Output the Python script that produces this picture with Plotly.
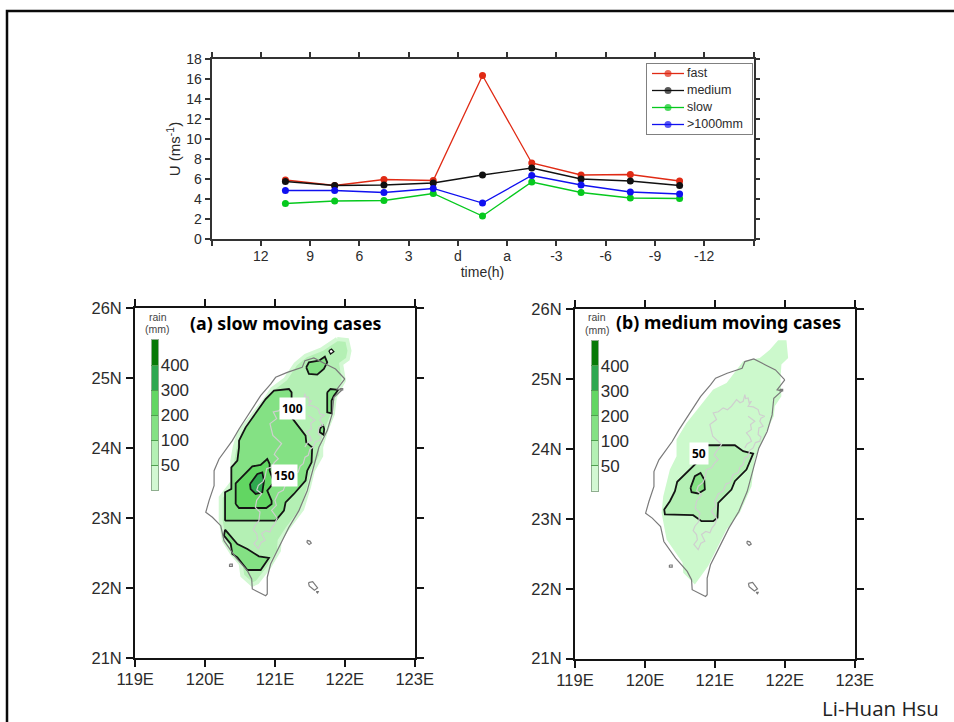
import plotly.graph_objects as go

# ---- top panel data
slot_positions = [1, 2, 3, 4, 5, 6, 7, 8, 9, 10]
slot_labels = ["12", "9", "6", "3", "d", "a", "-3", "-6", "-9", "-12"]
end_positions = [0, 11]
sample_positions = [1.5, 2.5, 3.5, 4.5, 5.5, 6.5, 7.5, 8.5, 9.5]
fast = [5.9, 5.35, 5.95, 5.85, 16.35, 7.6, 6.4, 6.45, 5.8]
medium = [5.75, 5.35, 5.4, 5.6, 6.4, 7.1, 6.0, 5.8, 5.35]
slow = [3.55, 3.8, 3.85, 4.55, 2.3, 5.7, 4.65, 4.1, 4.05]
over1000 = [4.85, 4.85, 4.65, 5.05, 3.6, 6.35, 5.4, 4.7, 4.5]
u_ticks = [0, 2, 4, 6, 8, 10, 12, 14, 16, 18]
series_names = ["fast", "medium", "slow", ">1000mm"]

# ---- map axes
lon_ticks = [119, 120, 121, 122, 123]
lon_labels = ["119E", "120E", "121E", "122E", "123E"]
lat_ticks = [21, 22, 23, 24, 25, 26]
lat_labels = ["21N", "22N", "23N", "24N", "25N", "26N"]
rain_levels = [0, 1, 2, 3, 4, 5]
rain_edges = [0.5, 1.5, 2.5, 3.5, 4.5]
rain_labels = ["50", "100", "200", "300", "400"]

# ---- geography (lon, lat)
coast = [(122.0,24.986),(121.89,24.843),(121.96,24.829),(121.843,24.724),(121.819,24.486),(121.748,24.248),
 (121.629,24.01),(121.557,23.724),(121.462,23.39),(121.343,23.105),(121.2,22.867),(121.057,22.581),(120.938,22.343),
 (120.89,22.152),(120.89,21.914),(120.867,21.89),(120.771,21.938),(120.676,21.986),(120.667,22.129),(120.605,22.248),
 (120.438,22.438),(120.271,22.676),(120.224,22.89),(120.105,23.01),(120.01,23.081),(120.057,23.248),(120.129,23.462),
 (120.129,23.676),(120.2,23.843),(120.39,24.105),(120.486,24.271),(120.652,24.533),(120.795,24.748),(120.938,24.914),
 (121.01,25.01),(121.176,25.081),(121.39,25.152),(121.429,25.248),(121.557,25.286),(121.724,25.2),(121.867,25.129),(122.0,24.986)]
green_island = [(121.46,22.68),(121.5,22.67),(121.52,22.64),(121.49,22.62),(121.46,22.65),(121.46,22.68)]
orchid_island = [(121.48,22.076),(121.54,22.09),(121.61,22.0),(121.565,21.967),(121.49,22.03),(121.48,22.076)]
islet_south = [(121.59,21.95),(121.62,21.95),(121.61,21.93),(121.59,21.95)]
islet_west = [(120.35,22.34),(120.39,22.34),(120.39,22.31),(120.35,22.31),(120.35,22.34)]
islet_east = [(121.93,24.85),(121.97,24.85),(121.97,24.83),(121.93,24.83),(121.93,24.85)]
mountains = [(121.429,24.776),(121.44,24.72),(121.476,24.729),(121.49,24.66),(121.524,24.681),(121.476,24.609),
 (121.55,24.6),(121.619,24.562),(121.64,24.49),(121.714,24.467),(121.66,24.44),(121.643,24.395),(121.69,24.324),
 (121.63,24.3),(121.619,24.205),(121.66,24.17),(121.643,24.11),(121.58,24.09),(121.548,24.014),(121.5,23.98),
 (121.476,23.895),(121.43,23.87),(121.405,23.776),(121.36,23.74),(121.333,23.657),(121.26,23.63),(121.214,23.514),
 (121.16,23.5),(121.119,23.395),(121.05,23.36),(121.0,23.252),(121.02,23.18),(120.952,23.109),(121.03,23.0),
 (121.0,22.919),(120.96,22.87),(120.929,22.8),(120.87,22.82),(120.81,22.776),(120.857,22.68),(120.8,22.65),
 (120.762,22.561),(120.7,22.633),(120.75,22.7),(120.738,22.776),(120.69,22.83),(120.714,22.894),(120.77,22.96),
 (120.786,23.085),(120.72,23.15),(120.738,23.252),(120.81,23.347),(120.74,23.4),(120.762,23.466),(120.83,23.52),
 (120.857,23.585),(120.881,23.704),(120.952,23.729),(120.99,23.79),(121.048,23.848),(120.99,23.91),(121.024,23.967),
 (121.095,24.062),(121.024,24.133),(120.97,24.18),(120.952,24.252),(120.929,24.348),(121.024,24.419),(120.976,24.514),
 (121.05,24.53),(121.119,24.586),(121.18,24.56),(121.238,24.61),(121.31,24.705),(121.36,24.66),(121.405,24.681),(121.429,24.776)]
mountain_branch = [(121.476,24.467),(121.571,24.395),(121.51,24.35),(121.524,24.276),(121.452,24.229),(121.5,24.17),
 (121.524,24.11),(121.46,24.07),(121.429,24.014)]

# ---- rainfall, slow moving cases
slow_base = [(121.89,25.557),(122.033,25.543),(122.067,25.39),(122.043,25.271),(121.948,25.2),(121.986,24.962),
 (121.857,24.724),(121.829,24.486),(121.733,24.248),(121.662,24.01),(121.662,23.89),(121.543,23.676),(121.486,23.438),
 (121.39,23.129),(121.176,22.843),(121.067,22.676),(121.057,22.533),(120.914,22.295),(120.748,22.081),(120.676,22.048),
 (120.533,22.176),(120.51,22.343),(120.39,22.486),(120.271,22.676),(120.224,22.962),(120.224,23.295),(120.39,23.51),
 (120.39,23.819),(120.424,24.01),(120.486,24.224),(120.676,24.462),(120.867,24.7),(120.962,24.843),(121.152,24.986),
 (121.295,25.2),(121.438,25.319),(121.676,25.414)]
slow_100 = [(120.286,22.962),(120.286,23.367),(120.376,23.414),(120.376,23.724),(120.462,23.819),(120.486,24.01),
 (120.486,24.105),(120.581,24.295),(120.867,24.7),(120.986,24.819),(121.2,24.843),(121.238,24.795),(121.238,24.438),
 (121.438,24.176),(121.448,24.081),(121.533,24.01),(121.524,23.795),(121.462,23.676),(121.438,23.533),(121.271,23.343),
 (121.152,23.224),(121.129,23.105),(121.01,22.962)]
slow_150 = [(120.438,23.2),(120.438,23.495),(120.676,23.738),(120.795,23.757),(120.89,23.843),(120.924,23.771),
 (120.924,23.676),(120.986,23.51),(120.89,23.39),(120.952,23.248),(120.952,23.2),(120.876,23.143),(120.486,23.143)]
slow_core = [(120.643,23.486),(120.748,23.629),(120.819,23.652),(120.843,23.533),(120.819,23.367),(120.724,23.343),(120.652,23.414)]
slow_south = [(120.286,22.833),(120.271,22.748),(120.367,22.629),(120.39,22.486),(120.462,22.438),(120.605,22.257),
 (120.795,22.257),(120.914,22.429),(120.771,22.452),(120.605,22.557),(120.462,22.629)]
slow_taipei = [(121.448,25.152),(121.486,25.224),(121.629,25.248),(121.714,25.305),(121.748,25.224),(121.7,25.129),(121.605,25.048),(121.486,25.057)]
slow_tip = [(121.771,25.39),(121.81,25.414),(121.843,25.376),(121.795,25.343)]
slow_yilan = [(121.748,24.795),(121.795,24.843),(121.905,24.829),(121.843,24.748),(121.81,24.676),(121.81,24.495),(121.748,24.51)]
slow_east = [(121.643,24.271),(121.686,24.333),(121.705,24.271),(121.695,24.19),(121.643,24.224)]

# ---- rainfall, medium moving cases
medium_base = [(121.905,25.552),(122.024,25.552),(122.048,25.3),(121.952,25.205),(121.938,24.99),(121.952,24.752),
 (121.857,24.61),(121.843,24.467),(121.738,24.252),(121.643,24.038),(121.571,23.848),(121.524,23.467),(121.357,23.086),
 (121.167,22.848),(121.071,22.657),(120.905,22.324),(120.714,22.062),(120.548,22.229),(120.538,22.371),(120.31,22.705),
 (120.238,23.086),(120.262,23.324),(120.357,23.705),(120.452,23.895),(120.452,24.133),(120.595,24.371),(120.786,24.61),
 (120.976,24.848),(121.167,24.943),(121.405,25.252),(121.643,25.3),(121.786,25.419)]
medium_50 = [(120.89,24.052),(121.286,24.052),(121.405,23.967),(121.548,23.933),(121.452,23.705),(121.286,23.538),
 (121.238,23.419),(121.048,23.229),(121.038,23.014),(120.976,22.967),(120.81,22.967),(120.69,23.052),(120.286,23.062),
 (120.276,23.133),(120.357,23.252),(120.429,23.395),(120.462,23.529),(120.738,23.8),(120.81,23.919)]
medium_100 = [(120.652,23.443),(120.714,23.61),(120.795,23.657),(120.848,23.562),(120.857,23.419),(120.762,23.362),(120.667,23.381)]

# ---- styles
W, H = 954, 722
INK = "#141414"
TXT = "#2b2b2b"
C_LOW, C_50, C_100, C_200, C_300, C_400 = "#d2f8d2", "#b4f0b4", "#84e184", "#62d662", "#2fa850", "#087a08"
SERIES_COLORS = ["#e02a14", "#111111", "#06c91e", "#1010f0"]
SANS = "Liberation Sans"
BOLD = "Noto Sans"

def dx(a, b):
    return [a / W, b / W]

def dy(top, bottom):
    return [1 - bottom / H, 1 - top / H]

fig = go.Figure()

for name, vals, col in zip(series_names, [fast, medium, slow, over1000], SERIES_COLORS):
    fig.add_trace(go.Scatter(x=sample_positions, y=vals, name=name, mode="lines+markers",
                             line=dict(color=col, width=1.3), marker=dict(color=col, size=7),
                             showlegend=False, xaxis="x", yaxis="y"))

# hand-built key: plotly's own legend rows cannot be made as tight as the reference's
for row, (name, col) in enumerate(zip(series_names, SERIES_COLORS)):
    yrow = 9.5 + 17 * row
    fig.add_trace(go.Scatter(x=[5, 21, 37], y=[yrow] * 3, mode="lines+markers", showlegend=False, hoverinfo="skip",
                             line=dict(color=col, width=1.3), marker=dict(color=col, size=[0, 7, 0], line=dict(width=0)),
                             xaxis="x6", yaxis="y6"))
    fig.add_trace(go.Scatter(x=[40], y=[yrow], mode="text", text=[name], textposition="middle right",
                             textfont=dict(family=SANS, size=12.5, color=TXT), showlegend=False, hoverinfo="skip",
                             xaxis="x6", yaxis="y6"))

def area(points, fill, ax, ay, edge=None, width=0):
    xs = [p[0] for p in points] + [points[0][0]]
    ys = [p[1] for p in points] + [points[0][1]]
    fig.add_trace(go.Scatter(x=xs, y=ys, mode="lines", fill="toself", fillcolor=fill, showlegend=False,
                             hoverinfo="skip", line=dict(color=edge or fill, width=width),
                             xaxis=ax, yaxis=ay))

def path(points, col, width, ax, ay):
    fig.add_trace(go.Scatter(x=[p[0] for p in points], y=[p[1] for p in points], mode="lines", showlegend=False,
                             hoverinfo="skip", line=dict(color=col, width=width), xaxis=ax, yaxis=ay))

def geography(ax, ay):
    path(mountains, "#cfcfcf", 1.2, ax, ay)
    path(mountain_branch, "#cfcfcf", 1.2, ax, ay)
    for shape in [coast, green_island, orchid_island, islet_south, islet_west, islet_east]:
        path(shape, "#7a7a7a", 1.2, ax, ay)

# slow panel
area(slow_base, C_50, "x2", "y2", C_LOW, 4)
for poly, col in [(slow_100, C_100), (slow_150, C_200), (slow_core, C_300), (slow_south, C_100),
                  (slow_taipei, C_100), (slow_yilan, C_100), (slow_east, C_100)]:
    area(poly, col, "x2", "y2", INK, 1.8)
area(slow_tip, "#ffffff", "x2", "y2", INK, 1.3)
geography("x2", "y2")

# medium panel
area(medium_base, "#ccf9cc", "x3", "y3")
area(medium_50, C_50, "x3", "y3", INK, 1.8)
area(medium_100, C_100, "x3", "y3", INK, 1.8)
geography("x3", "y3")

# colour keys
scale = []
bar_cols = [C_LOW, C_50, C_100, C_200, C_300, C_400]
for i, c in enumerate(bar_cols):
    scale += [[i / 6, c], [(i + 1) / 6, c]]
for ax, ay in [("x4", "y4"), ("x5", "y5")]:
    fig.add_trace(go.Heatmap(x=[0], y=rain_levels, z=[[v] for v in rain_levels], zmin=-0.5, zmax=5.5,
                             colorscale=scale, showscale=False, hoverinfo="skip", xaxis=ax, yaxis=ay))

map_font = dict(family=SANS, size=16.5, color=TXT)

def map_axes(xdom, ydom, anchor_x, anchor_y):
    xa = dict(domain=xdom, anchor=anchor_y, range=[119, 123], tickvals=lon_ticks, ticktext=lon_labels, ticks="outside",
              ticklen=7, tickwidth=2, tickcolor=INK, showline=True, linewidth=2.2, linecolor=INK, mirror="ticks",
              showgrid=False, zeroline=False, tickfont=map_font, ticklabelstandoff=-2)
    ya = dict(domain=ydom, anchor=anchor_x, range=[21, 26], tickvals=lat_ticks, ticktext=lat_labels, ticks="outside",
              ticklen=7, tickwidth=2, tickcolor=INK, showline=True, linewidth=2.2, linecolor=INK, mirror="ticks",
              showgrid=False, zeroline=False, tickfont=map_font, ticklabelstandoff=1)
    return xa, ya

x2, y2 = map_axes(dx(135.2, 414.7), dy(308, 658), "x2", "y2")
x3, y3 = map_axes(dx(575, 854.7), dy(309, 658.7), "x3", "y3")

def key_axes(xdom, ydom, anchor_x, anchor_y):
    xa = dict(domain=xdom, anchor=anchor_y, range=[-0.5, 0.5], tickvals=[], showgrid=False,
              zeroline=False, showline=True, linewidth=1, linecolor="#8fae8f", mirror=True)
    ya = dict(domain=ydom, anchor=anchor_x, side="right", range=[-0.5, 5.5], tickvals=rain_edges, ticktext=rain_labels,
              ticks="inside", ticklen=7, tickwidth=1, tickcolor="#4f9f4f", showgrid=False, zeroline=False, showline=True,
              linewidth=1, linecolor="#8fae8f", mirror=True, tickfont=dict(family=SANS, size=17, color=TXT),
              ticklabelstandoff=-2)
    return xa, ya

x4, y4 = key_axes(dx(151.7, 158.3), dy(340, 490), "x4", "y4")
x5, y5 = key_axes(dx(591.7, 598.3), dy(340.7, 491), "x5", "y5")

def note(text, xpx, ypx, size, family=SANS, color=TXT, bold=False):
    return dict(text=f"<b>{text}</b>" if bold else text, xref="paper", yref="paper", x=xpx / W, y=1 - ypx / H,
                xanchor="center", yanchor="middle", showarrow=False, font=dict(family=family, size=size, color=color))

def label(text, lon, lat, ax, ay):
    return dict(text=f"<b>{text}</b>", xref=ax, yref=ay, x=lon, y=lat, showarrow=False, bgcolor="#ffffff",
                borderpad=2, font=dict(family=BOLD, size=12, color="#000000"))

annotations = [
    note("(a) slow moving cases", 285.5, 323, 17.8, BOLD, "#000000", True),
    note("(b) medium moving cases", 728.5, 322, 17.8, BOLD, "#000000", True),
    note("Li-Huan Hsu", 880, 708, 20.5, "Open Sans", "#222222"),
    note("rain", 157.7, 317, 10.5, SANS, "#444444"),
    note("(mm)", 157.7, 329.5, 10.5, SANS, "#444444"),
    note("rain", 597, 317, 10.5, SANS, "#444444"),
    note("(mm)", 597, 330, 10.5, SANS, "#444444"),
    label("100", 121.248, 24.567, "x2", "y2"),
    label("150", 121.138, 23.605, "x2", "y2"),
    label("50", 120.771, 23.929, "x3", "y3"),
]

shapes = [dict(type="path", xref="paper", yref="paper",
               path=f"M {7/W} 0 L {7/W} {1-11/H} L 1 {1-11/H}", line=dict(color="#0a0a0a", width=2.5))]

fig.update_layout(
    width=W, height=H, margin=dict(l=0, r=0, t=0, b=0, autoexpand=False), paper_bgcolor="#ffffff", plot_bgcolor="#ffffff",
    font=dict(family=SANS, color=TXT), hovermode=False, showlegend=False,
    xaxis=dict(domain=dx(211.5, 753.5), anchor="y", range=[0, 11], tickvals=slot_positions, ticktext=slot_labels,
               ticks="outside", ticklen=5, tickwidth=1.5, tickcolor="#333333", showline=True, linewidth=1.6,
               linecolor="#333333", mirror="ticks", showgrid=False, zeroline=False,
               minor=dict(tickvals=end_positions, ticks="outside", ticklen=5, tickwidth=1.5, tickcolor="#333333", showgrid=False),
               tickfont=dict(family=SANS, size=14, color=TXT), ticklabelstandoff=-2,
               title=dict(text="time(h)", font=dict(family=SANS, size=14, color=TXT), standoff=4)),
    yaxis=dict(domain=dy(59, 239), anchor="x", range=[0, 18], tickvals=u_ticks, ticks="outside", ticklen=5, tickwidth=1.5,
               tickcolor="#333333", showline=True, linewidth=1.6, linecolor="#333333", mirror="ticks", showgrid=False,
               zeroline=False, tickfont=dict(family=SANS, size=14, color=TXT),
               title=dict(text="U (ms<sup>-1</sup>)", font=dict(family=SANS, size=15, color=TXT), standoff=2)),
    xaxis2=x2, yaxis2=y2, xaxis3=x3, yaxis3=y3, xaxis4=x4, yaxis4=y4, xaxis5=x5, yaxis5=y5,
    xaxis6=dict(domain=dx(647, 752), anchor="y6", range=[0, 105], tickvals=[], showgrid=False, zeroline=False,
                showline=True, linewidth=1, linecolor="#808080", mirror=True),
    yaxis6=dict(domain=dy(64, 134), anchor="x6", range=[70, 0], tickvals=[], showgrid=False, zeroline=False,
                showline=True, linewidth=1, linecolor="#808080", mirror=True),
    annotations=annotations, shapes=shapes,
)

fig.write_html("out.html", config=dict(displayModeBar=False),
               post_script="document.body.style.margin='0';document.body.style.overflow='hidden';")
